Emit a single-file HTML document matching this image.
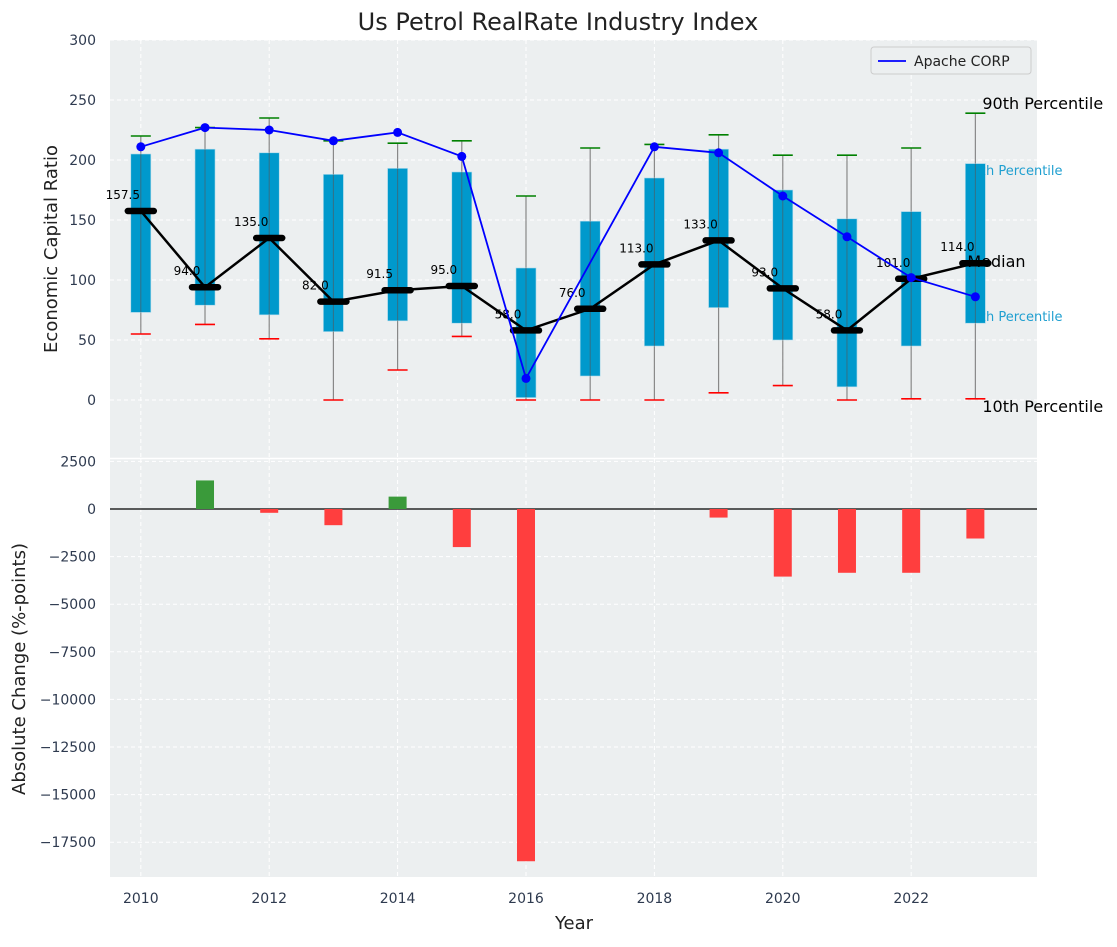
<!DOCTYPE html>
<html><head><meta charset="utf-8"><style>
body{margin:0;background:#fff;}
svg text{font-family:"DejaVu Sans","Liberation Sans",sans-serif;}
</style></head><body>
<svg id="chart" width="1117" height="942" xmlns="http://www.w3.org/2000/svg"></svg>
<script>
const years=[2010,2011,2012,2013,2014,2015,2016,2017,2018,2019,2020,2021,2022,2023];
const q1=[73,79,71,57,66,64,2,20,45,77,50,11,45,64];
const q3=[205,209,206,188,193,190,110,149,185,209,175,151,157,197];
const lowW=[55,63,51,0,25,53,0,0,0,6,12,0,1,1];
const highW=[220,227,235,216,214,216,170,210,213,221,204,204,210,239];
const medians=[157.5,94,135,82,91.5,95,58,76,113,133,93,58,101,114];
const apache=[211,227,225,216,223,203,18,null,211,206,170,136,102,86];
const changes=[0,1500,-200,-850,650,-2000,-18500,0,0,-450,-3550,-3350,-3350,-1550];
const topTicks=[0,50,100,150,200,250,300];
const botTicks=[2500,0,-2500,-5000,-7500,-10000,-12500,-15000,-17500];
const xTicks=[2010,2012,2014,2016,2018,2020,2022];

const svg=document.getElementById('chart');
const NS='http://www.w3.org/2000/svg';
function el(tag,attrs,parent){const e=document.createElementNS(NS,tag);for(const k in attrs)e.setAttribute(k,attrs[k]);(parent||svg).appendChild(e);return e;}
const L=110,R=1037,T1=40,B1=458,T2=459,B2=877;
const x=v=>L+(v-2009.52)/(2023.96-2009.52)*(R-L);
const y1=v=>400-v*1.2;
const y2=v=>509-v*(47.6/2500);

let bg=el('rect',{x:L,y:T1,width:R-L,height:B1-T1,fill:'#eceff0'});

let bg2=el('rect',{x:L,y:T2,width:R-L,height:B2-T2,fill:'#eceff0'});

el('line',{x1:L,x2:R,y1:458.5,y2:458.5,stroke:'#fff','stroke-width':1.5});

xTicks.forEach(t=>{
  el('line',{x1:x(t),x2:x(t),y1:T1,y2:B1,stroke:'#fff','stroke-dasharray':'4,3','stroke-width':1});
  el('line',{x1:x(t),x2:x(t),y1:T2,y2:B2,stroke:'#fff','stroke-dasharray':'4,3','stroke-width':1});
  const tl=el('text',{x:x(t),y:903,'font-size':14,fill:'#2e3a4f','text-anchor':'middle'});tl.textContent=t;
  
});
topTicks.forEach(t=>{
  el('line',{x1:L,x2:R,y1:y1(t),y2:y1(t),stroke:'#fff','stroke-dasharray':'4,3'});
  const tl=el('text',{x:96,y:y1(t)+5,'font-size':14,fill:'#2e3a4f','text-anchor':'end'});tl.textContent=t;
  
});
botTicks.forEach(t=>{
  el('line',{x1:L,x2:R,y1:y2(t),y2:y2(t),stroke:'#fff','stroke-dasharray':'4,3'});
  const tl=el('text',{x:96,y:y2(t)+5,'font-size':14,fill:'#2e3a4f','text-anchor':'end'});tl.textContent=t.toString().replace('-','\u2212');
  
});

const lastX=x(2023);
[['75th Percentile',175],['25th Percentile',321]].forEach(([s,yy])=>{
  const t=el('text',{x:lastX-11,y:yy,'font-size':13,fill:'#1f9fd0'});t.textContent=s;
  
});

years.forEach((yr,i)=>{
  const cx=x(yr);
  const w=el('line',{x1:cx,x2:cx,y1:y1(lowW[i]),y2:y1(highW[i]),stroke:'#888','stroke-width':1.2});
  
  const b=el('rect',{x:cx-10,y:y1(q3[i]),width:20,height:y1(q1[i])-y1(q3[i]),fill:'#0099cc',stroke:'#a8d8ea','stroke-width':0.6});
  
  el('line',{x1:cx,x2:cx,y1:y1(q3[i]),y2:y1(q1[i]),stroke:'#555','stroke-width':1,'stroke-opacity':0.6});
  const hc=el('line',{x1:cx-10,x2:cx+10,y1:y1(highW[i]),y2:y1(highW[i]),stroke:'green','stroke-width':1.6});
  
  const lc=el('line',{x1:cx-10,x2:cx+10,y1:y1(lowW[i]),y2:y1(lowW[i]),stroke:'red','stroke-width':1.6});
  
});

let mp=years.map((yr,i)=>x(yr)+','+y1(medians[i])).join(' ');
const ml=el('polyline',{points:mp,fill:'none',stroke:'#000','stroke-width':2.5});

years.forEach((yr,i)=>{
  const cx=x(yr),cy=y1(medians[i]);
  const m=el('line',{x1:cx-13,x2:cx+13,y1:cy,y2:cy,stroke:'#000','stroke-width':6.5,'stroke-linecap':'round'});
  
  const t=el('text',{x:cx-18,y:cy-12,'font-size':12,fill:'#000','text-anchor':'middle'});t.textContent=medians[i].toFixed(1);
  
});

let ap=[];years.forEach((yr,i)=>{if(apache[i]!==null)ap.push(x(yr)+','+y1(apache[i]));});
const al=el('polyline',{points:ap.join(' '),fill:'none',stroke:'#0000ff','stroke-width':1.8});

years.forEach((yr,i)=>{if(apache[i]===null)return;
  const c=el('circle',{cx:x(yr),cy:y1(apache[i]),r:4.5,fill:'#0000ff'});
  
});

[['90th Percentile',lastX+7,109],['Median',lastX-8,y1(medians[13])+4],['10th Percentile',lastX+7,y1(lowW[13])+13]].forEach(([s,xx,yy])=>{
  const t=el('text',{x:xx,y:yy,'font-size':16,fill:'#000'});t.textContent=s;
  
});

const lg=el('g',{});
el('rect',{x:871,y:47,width:160,height:27,rx:3,fill:'#eceff0',stroke:'#ccc'},lg);
el('line',{x1:878,x2:906,y1:61,y2:61,stroke:'#0000ff','stroke-width':1.8},lg);
const lt=el('text',{x:914,y:66,'font-size':14,fill:'#222'},lg);lt.textContent='Apache CORP';

el('line',{x1:L,x2:R,y1:y2(0),y2:y2(0),stroke:'#000','stroke-width':1.2});
years.forEach((yr,i)=>{if(changes[i]===0)return;
  const v=changes[i],cx=x(yr);
  const b=el('rect',{x:cx-9,y:Math.min(y2(v),y2(0)),width:18,height:Math.abs(y2(v)-y2(0)),fill:v>0?'#3a9a3a':'#ff3e3e'});
  
});

const tt=el('text',{x:558,y:30,'font-size':24,fill:'#222','text-anchor':'middle'});tt.textContent='Us Petrol RealRate Industry Index';

const xl=el('text',{x:574,y:929,'font-size':18,fill:'#222','text-anchor':'middle'});xl.textContent='Year';

const yl=el('text',{x:0,y:0,'font-size':18,fill:'#222','text-anchor':'middle',transform:'translate(57,249) rotate(-90)'});yl.textContent='Economic Capital Ratio';

const yl2=el('text',{x:0,y:0,'font-size':18,fill:'#222','text-anchor':'middle',transform:'translate(25,669) rotate(-90)'});yl2.textContent='Absolute Change (%-points)';

</script>
</body></html>
